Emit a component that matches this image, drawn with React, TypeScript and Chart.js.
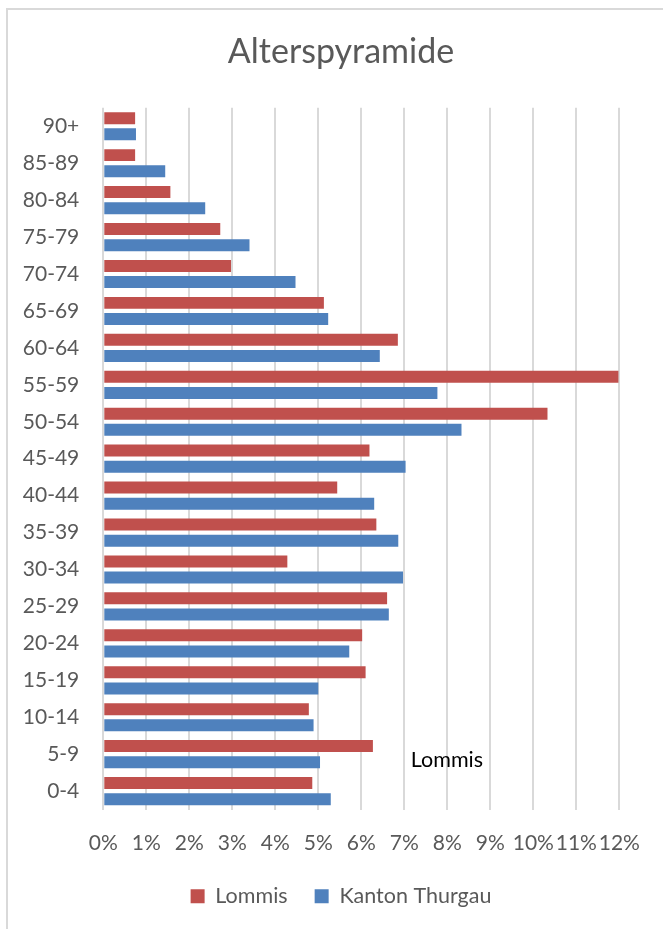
import React, { useEffect, useRef } from "react";
import { Chart, registerables } from "chart.js";

Chart.register(...registerables);

const categories = [
  "90+", "85-89", "80-84", "75-79", "70-74", "65-69", "60-64", "55-59", "50-54", "45-49",
  "40-44", "35-39", "30-34", "25-29", "20-24", "15-19", "10-14", "5-9", "0-4",
];
const lommis = [
  0.74, 0.74, 1.56, 2.72, 2.97, 5.13, 6.85, 11.98, 10.33, 6.19,
  5.44, 6.35, 4.28, 6.6, 6.02, 6.1, 4.78, 6.27, 4.86,
];
const kantonThurgau = [
  0.76, 1.44, 2.37, 3.4, 4.47, 5.23, 6.43, 7.77, 8.33, 7.03,
  6.3, 6.86, 6.97, 6.64, 5.72, 5.0, 4.89, 5.04, 5.29,
];
const seriesNames = ["Lommis", "Kanton Thurgau"];
const xMin = 0;
const xMax = 12;
const annotationText = "Lommis";

const FONT = "Lato";
const TEXT = "#595959";
const CANVAS_W = 700;
const CANVAS_H = 929;

const annotationPlugin = {
  id: "annotationText",
  afterDraw(chart: any) {
    const { ctx, scales } = chart;
    const x = scales.x;
    const y = scales.y;
    ctx.save();
    ctx.font = `21.5px ${FONT}`;
    ctx.fillStyle = "#000000";
    ctx.textAlign = "left";
    ctx.textBaseline = "middle";
    ctx.fillText(annotationText, x.getPixelForValue(7.15), y.getPixelForValue(17) + 6);
    ctx.restore();
  },
};

export default function App() {
  const canvasRef = useRef<HTMLCanvasElement | null>(null);

  useEffect(() => {
    let chart: Chart | null = null;
    let cancelled = false;
    const make = () => {
      if (cancelled || !canvasRef.current) return;
      chart = new Chart(canvasRef.current, {
        type: "bar",
        data: {
          labels: categories,
          datasets: [
            {
              label: seriesNames[0],
              data: lommis,
              backgroundColor: "#C0504D",
              borderWidth: 0,
              categoryPercentage: 0.876,
              barPercentage: 0.74,
            },
            {
              label: seriesNames[1],
              data: kantonThurgau,
              backgroundColor: "#4F81BD",
              borderWidth: 0,
              categoryPercentage: 0.876,
              barPercentage: 0.74,
            },
          ],
        },
        options: {
          indexAxis: "y",
          responsive: false,
          animation: false,
          devicePixelRatio: 1,
          layout: { padding: { left: 8, right: 26, top: 0, bottom: 12 } },
          plugins: {
            title: {
              display: true,
              text: "Alterspyramide",
              color: TEXT,
              font: { family: FONT, size: 34, weight: "normal" },
              padding: { top: 31.6, bottom: 35.4 },
            },
            legend: {
              display: true,
              position: "bottom",
              labels: {
                color: TEXT,
                font: { family: FONT, size: 21.5 },
                boxWidth: 14,
                boxHeight: 14,
                padding: 27,
              },
            },
            tooltip: { enabled: false },
          },
          scales: {
            x: {
              type: "linear",
              min: xMin,
              max: xMax,
              ticks: {
                stepSize: 1,
                color: TEXT,
                font: { family: FONT, size: 21 },
                padding: 21,
                maxRotation: 0,
                minRotation: 0,
                autoSkip: false,
                callback: (v: any) => `${v}%`,
              },
              grid: { color: "#D9D9D9", lineWidth: 2, drawTicks: false },
              border: { display: false },
              afterFit: (s: any) => {
                s.height = 48.9;
              },
            },
            y: {
              type: "category",
              ticks: {
                color: TEXT,
                font: { family: FONT, size: 21 },
                padding: 24,
              },
              grid: { display: false, drawTicks: false },
              border: { display: false },
              afterFit: (s: any) => {
                s.width = 95.3;
              },
            },
            spacer: {
              type: "linear",
              position: "right",
              display: true,
              ticks: { display: false },
              grid: { display: false, drawTicks: false },
              border: { display: false },
              afterFit: (s: any) => {
                s.width = CANVAS_W - 26 - 619.3;
              },
            },
          },
        },
        plugins: [annotationPlugin],
      });
    };
    const fontsReady = (document as any).fonts
      ? Promise.all([
          (document as any).fonts.load(`21px ${FONT}`),
          (document as any).fonts.load(`34px ${FONT}`),
        ]).catch(() => null)
      : Promise.resolve(null);
    fontsReady.then(make);
    return () => {
      cancelled = true;
      if (chart) chart.destroy();
    };
  }, []);

  return (
    <div
      style={{
        position: "fixed",
        left: 0,
        top: 0,
        width: 663,
        height: 929,
        overflow: "hidden",
        background: "#ffffff",
      }}
    >
      <div
        style={{
          position: "absolute",
          left: 6,
          top: 8,
          width: 700,
          height: 1000,
          border: "2px solid #D9D9D9",
          boxSizing: "border-box",
        }}
      />
      <canvas
        ref={canvasRef}
        width={CANVAS_W}
        height={CANVAS_H}
        style={{ position: "absolute", left: 0, top: 0, width: CANVAS_W, height: CANVAS_H }}
      />
    </div>
  );
}
